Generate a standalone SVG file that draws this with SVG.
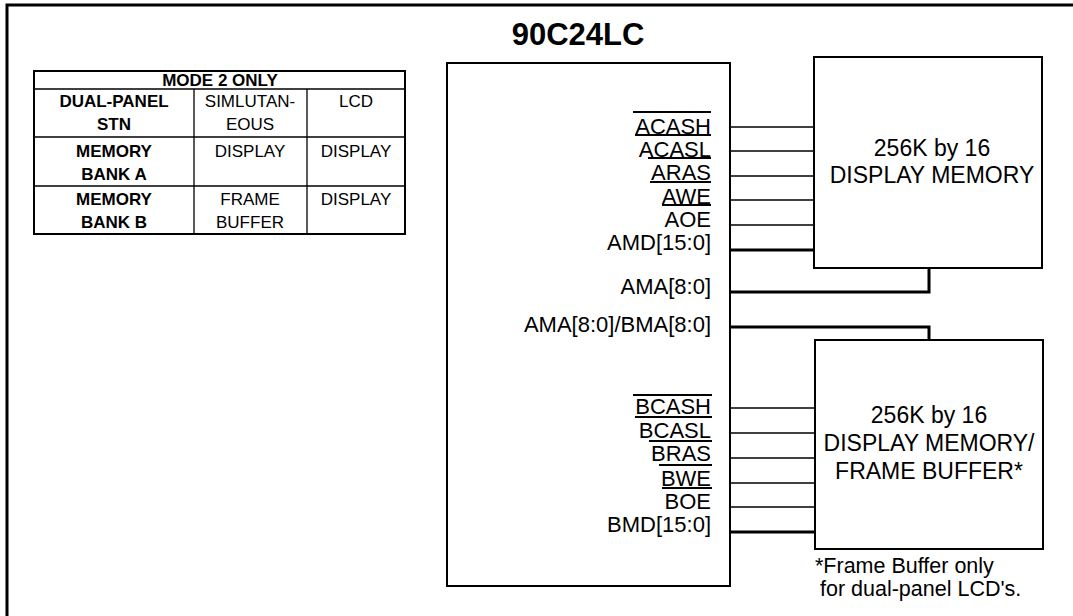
<svg xmlns="http://www.w3.org/2000/svg" width="1073" height="616" viewBox="0 0 1073 616">
<style>
text{font-family:"Liberation Sans",Arial,sans-serif;fill:#000}
.t{font-size:17px;text-anchor:middle}
.b{font-weight:bold}
.sig{font-size:22px;text-anchor:end}
.mem{font-size:23px;text-anchor:middle}
.box{fill:#fff;stroke:#000;stroke-width:2}
.thin{stroke:#000;stroke-width:1.3;fill:none}
.bus{stroke:#000;stroke-width:3;fill:none}
.ol{stroke:#000;stroke-width:2}
</style>
<rect width="1073" height="616" fill="#fff"/>
<rect x="7" y="5" width="1080" height="630" fill="none" stroke="#000" stroke-width="3"/>
<text x="578" y="45" font-size="31" font-weight="bold" text-anchor="middle">90C24LC</text>
<g id="mode-table">
<rect x="34" y="71" width="371" height="163" fill="none" stroke="#000" stroke-width="2"/>
<g class="thin">
<line x1="34" y1="89" x2="405" y2="89"/>
<line x1="34" y1="137" x2="405" y2="137"/>
<line x1="34" y1="186" x2="405" y2="186"/>
<line x1="194" y1="89" x2="194" y2="234"/>
<line x1="307" y1="89" x2="307" y2="234"/>
</g>
<text class="t b" x="220" y="86" font-size="16">MODE 2 ONLY</text>
<text class="t b" x="114" y="107">DUAL-PANEL</text>
<text class="t b" x="114" y="130">STN</text>
<text class="t" x="250" y="107">SIMLUTAN-</text>
<text class="t" x="250" y="130">EOUS</text>
<text class="t" x="356" y="107">LCD</text>
<text class="t b" x="114" y="157">MEMORY</text>
<text class="t b" x="114" y="180">BANK A</text>
<text class="t" x="250" y="157">DISPLAY</text>
<text class="t" x="356" y="157">DISPLAY</text>
<text class="t b" x="114" y="205">MEMORY</text>
<text class="t b" x="114" y="228">BANK B</text>
<text class="t" x="250" y="205">FRAME</text>
<text class="t" x="250" y="228">BUFFER</text>
<text class="t" x="356" y="205">DISPLAY</text>
</g>
<g id="connectors">
<g class="thin">
<line x1="730" y1="127" x2="814" y2="127"/>
<line x1="730" y1="151" x2="814" y2="151"/>
<line x1="730" y1="176" x2="814" y2="176"/>
<line x1="730" y1="200" x2="814" y2="200"/>
<line x1="730" y1="225" x2="814" y2="225"/>
<line x1="730" y1="408" x2="815" y2="408"/>
<line x1="730" y1="433" x2="815" y2="433"/>
<line x1="730" y1="458" x2="815" y2="458"/>
<line x1="730" y1="483" x2="815" y2="483"/>
<line x1="730" y1="507" x2="815" y2="507"/>
</g>
<g class="bus">
<line x1="730" y1="250" x2="814" y2="250"/>
<polyline points="730,292 929,292 929,268"/>
<polyline points="730,327 929,327 929,340"/>
<line x1="730" y1="532" x2="815" y2="532"/>
</g>
</g>
<g id="chip-90C24LC">
<rect class="box" x="447" y="63" width="283" height="523"/>
<text class="sig" x="711" y="134">ACASH</text>
<text class="sig" x="711" y="157">ACASL</text>
<text class="sig" x="711" y="180">ARAS</text>
<text class="sig" x="711" y="204">AWE</text>
<text class="sig" x="711" y="227">AOE</text>
<text class="sig" x="711" y="250">AMD[15:0]</text>
<text class="sig" x="711" y="294">AMA[8:0]</text>
<text class="sig" x="711" y="332">AMA[8:0]/BMA[8:0]</text>
<text class="sig" x="711" y="414">BCASH</text>
<text class="sig" x="711" y="438">BCASL</text>
<text class="sig" x="711" y="461">BRAS</text>
<text class="sig" x="711" y="486">BWE</text>
<text class="sig" x="711" y="509">BOE</text>
<text class="sig" x="711" y="532">BMD[15:0]</text>
<g class="ol">
<line x1="633" y1="112" x2="711" y2="112"/>
<line x1="635" y1="135" x2="711" y2="135"/>
<line x1="648" y1="158" x2="711" y2="158"/>
<line x1="650" y1="182" x2="711" y2="182"/>
<line x1="662" y1="205" x2="711" y2="205"/>
<line x1="633" y1="395" x2="712" y2="395"/>
<line x1="635" y1="417" x2="712" y2="417"/>
<line x1="649" y1="441" x2="712" y2="441"/>
<line x1="659" y1="465" x2="712" y2="465"/>
<line x1="662" y1="488" x2="712" y2="488"/>
</g>
</g>
<g id="display-memory-a">
<rect class="box" x="814" y="57" width="228" height="211"/>
<text class="mem" x="932" y="156">256K by 16</text>
<text class="mem" x="932" y="183">DISPLAY MEMORY</text>
</g>
<g id="display-memory-b">
<rect class="box" x="815" y="340" width="228" height="209"/>
<text class="mem" x="929" y="423">256K by 16</text>
<text class="mem" x="929" y="451">DISPLAY MEMORY/</text>
<text class="mem" x="929" y="479">FRAME BUFFER*</text>
</g>
<g id="footnote">
<text x="815" y="573" font-size="21.5">*Frame Buffer only</text>
<text x="820" y="596" font-size="21.5">for dual-panel LCD's.</text>
</g>
</svg>
